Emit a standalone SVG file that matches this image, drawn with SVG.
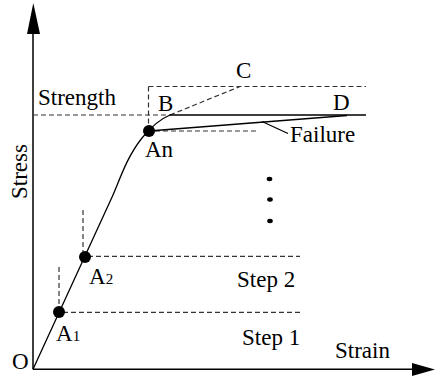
<svg xmlns="http://www.w3.org/2000/svg" width="435" height="379" viewBox="0 0 435 379">
<style>
text{font-family:"Liberation Serif","Times New Roman",serif;font-size:23px;fill:#000}
.sub{font-size:15px}
.ax{stroke:#000;stroke-width:1.5;fill:none}
.dash{stroke:#333;stroke-width:1.2;stroke-dasharray:5,3;fill:none}
.sol{stroke:#000;stroke-width:1.3;fill:none}
</style>
<rect width="435" height="379" fill="#fff"/>
<g id="axes">
<line class="ax" x1="33" y1="369.3" x2="33" y2="30"/>
<polygon points="33.3,3 27,34 40,34" fill="#000"/>
<line class="ax" x1="33" y1="369.3" x2="415" y2="369.3"/>
<polygon points="435,369.5 412,363 412,376" fill="#000"/>
<text x="12" y="369">O</text>
<text x="335" y="358">Strain</text>
<text transform="translate(27,199) rotate(-90)">Stress</text>
</g>
<g id="connectors">
<line class="dash" x1="33" y1="115" x2="170" y2="115"/>
<line class="dash" x1="148.5" y1="86.5" x2="366" y2="86.5"/>
<line class="dash" x1="148.5" y1="86.5" x2="148.5" y2="126"/>
<line class="dash" x1="170" y1="115" x2="240" y2="86.5"/>
<line class="dash" x1="155" y1="131" x2="258" y2="131"/>
<line class="dash" x1="83" y1="210" x2="83" y2="252"/>
<line class="dash" x1="88" y1="256.3" x2="300" y2="256.3"/>
<line class="dash" x1="59" y1="267" x2="59" y2="307"/>
<line class="dash" x1="63" y1="312.3" x2="303" y2="312.3"/>
<path class="sol" d="M33,369.3 L113,195 C119,182 126,158 142,138 C150,128 158,120 170,115 L366,115"/>
<line class="sol" x1="149" y1="131" x2="347" y2="115.5"/>
<line class="sol" stroke-width="1" x1="262" y1="121.5" x2="288" y2="133.5"/>
</g>
<g id="A1"><circle cx="59" cy="312" r="6"/><text x="56" y="341">A<tspan class="sub">1</tspan></text></g>
<g id="A2"><circle cx="85" cy="257" r="6"/><text x="89" y="284">A<tspan class="sub">2</tspan></text></g>
<g id="An"><circle cx="149" cy="131" r="6"/><text x="145" y="157">An</text></g>
<g id="B"><text x="158" y="111">B</text></g>
<g id="C"><text x="236" y="78">C</text></g>
<g id="D"><text x="333" y="110">D</text></g>
<g id="Failure"><text x="290" y="142">Failure</text></g>
<g id="Strength"><text x="38" y="105">Strength</text></g>
<g id="Step2"><text x="237" y="287">Step 2</text></g>
<g id="Step1"><text x="242" y="345">Step 1</text></g>
<g id="ellipsis">
<ellipse cx="269.5" cy="179" rx="2.8" ry="2.2"/>
<ellipse cx="270" cy="199.5" rx="2.8" ry="2.2"/>
<ellipse cx="270" cy="221" rx="2.8" ry="2.2"/>
</g>
</svg>
